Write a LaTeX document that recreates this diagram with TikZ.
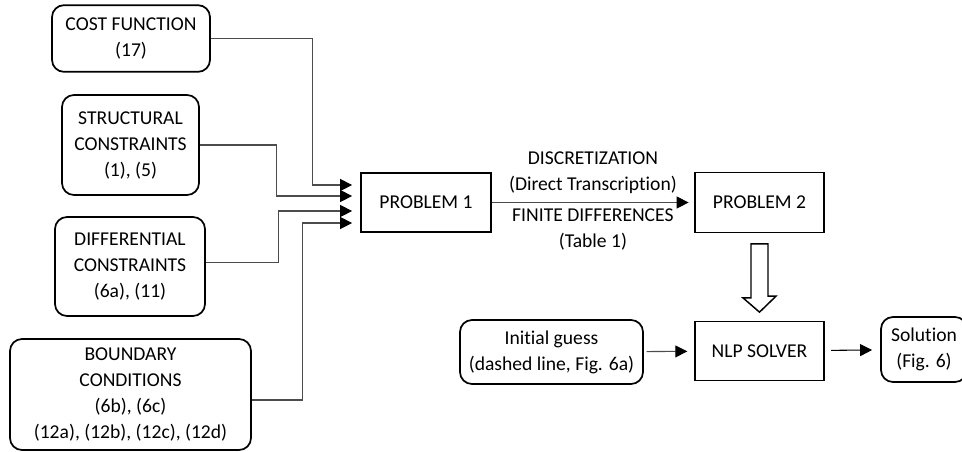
\documentclass[tikz,border=0pt]{standalone}
\usepackage{fontspec}
\setmainfont{Carlito}[Ligatures={NoCommon}]
\usepackage{xcolor}
\usepackage{tikz}
\usetikzlibrary{arrows.meta, calc}

\begin{document}
\begin{tikzpicture}[x=0.75pt, y=-0.75pt,
    font=\fontsize{14.7}{19.5}\selectfont,
    box/.style={draw, line width=1.3pt, align=center, inner sep=0pt},
    rbox/.style={box, rounded corners=9pt},
    conn/.style={draw=black!70, line width=0.8pt, -{Triangle[length=9pt, width=9pt, color=black]}, shorten >=6pt},
    hollow/.style={draw, line width=1.1pt, fill=white}]
      \path[use as bounding box, clip] (0,0) rectangle (962,451);

      % inputs on the left
      \node[rbox, minimum width=118.5pt, minimum height=50pt] (cost) at (131,38.5) {COST FUNCTION\\(17)};
      \node[rbox, minimum width=102.75pt, minimum height=75pt] (structural) at (130.5,145) {STRUCTURAL\\CONSTRAINTS\\(1), (5)};
      \node[rbox, minimum width=112.5pt, minimum height=74.25pt] (differential) at (130,266.5) {DIFFERENTIAL\\CONSTRAINTS\\(6a), (11)};
      \node[rbox, minimum width=180.75pt, minimum height=83.25pt] (boundary) at (130.5,394.5) {BOUNDARY\\CONDITIONS\\(6b), (6c)\\(12a), (12b), (12c), (12d)};

      % problems and solver
      \node[box, minimum width=97.5pt, minimum height=44.25pt] (prob1) at (426,202.5) {PROBLEM 1};
      \node[box, minimum width=97pt, minimum height=45pt] (prob2) at (759.5,202.5) {PROBLEM 2};
      \node[box, minimum width=97pt, minimum height=44.25pt] (nlp) at (759.5,351) {NLP SOLVER};
      \node[rbox, minimum width=137.25pt, minimum height=48pt] (guess) at (551.5,352) {Initial guess\\(dashed line, Fig. 6a)};
      \node[rbox, minimum width=64.5pt, minimum height=48.75pt] (sol) at (924,349.5) {Solution\\(Fig. 6)};

      % connectors into problem 1
      \draw[conn] (cost.east) -- ++(102,0) |- ($(prob1.west)+(0,-17.5)$);
      \draw[conn] (structural.east) -- ++(77,0) |- ($(prob1.west)+(0,-6.5)$);
      \draw[conn] ($(differential.east)+(0,-4)$) -- ++(73,0) |- ($(prob1.west)+(0,8.5)$);
      \draw[conn] ($(boundary.east)+(0,5.5)$) -- ++(51,0) |- ($(prob1.west)+(0,20.5)$);

      % discretization step
      \draw[conn, shorten >=4pt] (prob1) -- (prob2)
        node[midway, above=3pt, align=center] {DISCRETIZATION\\(Direct Transcription)}
        node[midway, below=1pt, align=center] {FINITE DIFFERENCES\\(Table 1)};

      % hollow arrow down to the solver
      \draw[hollow] ($(prob2.south)+(-8.5,10.5)$) -- ++(0,54) -- ++(-8,0) -- ($(nlp.north)+(0,-8.5)$)
        -- ++(16.5,-16) -- ++(-8,0) -- ($(prob2.south)+(8.5,10.5)$) -- cycle;

      \draw[conn, shorten <=2pt, shorten >=5pt] (guess) -- (nlp);
      \draw[conn, black, shorten <=4.5pt, shorten >=6pt] (nlp) -- (sol);
    \end{tikzpicture}
\end{document}
